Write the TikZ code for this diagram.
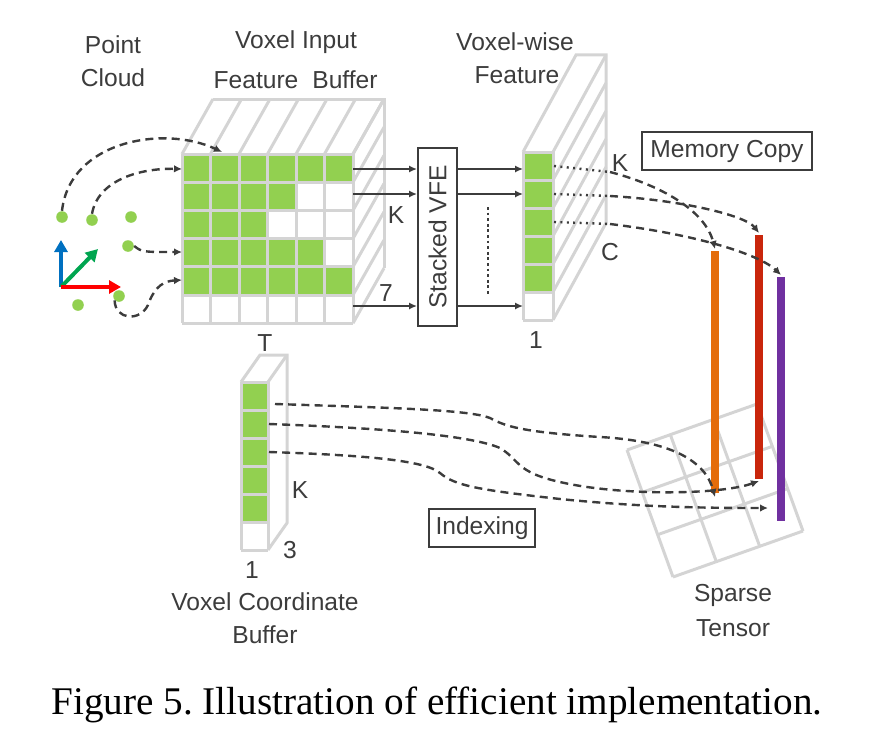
\documentclass[tikz,border=0pt]{standalone}
\usepackage{fontspec}
\setmainfont{Liberation Sans}
\newfontfamily\capfont{Liberation Serif}
\usetikzlibrary{arrows.meta}
\definecolor{gridgray}{HTML}{D4D4D4}
\definecolor{ink}{HTML}{3C3C3C}
\definecolor{vgreen}{HTML}{92D050}
\definecolor{axblue}{HTML}{0070C0}
\definecolor{axgreen}{HTML}{00A550}
\definecolor{axred}{HTML}{FF0000}
\definecolor{barorange}{HTML}{E46C0A}
\definecolor{barred}{HTML}{C9260C}
\definecolor{barpurple}{HTML}{7030A0}
\begin{document}
\begin{tikzpicture}[x=0.5pt,y=-0.5pt,
  gridline/.style={draw=gridgray, line width=1.5pt},
  cellfill/.style={fill=vgreen},
  lbl/.style={text=ink, font=\fontsize{12.3}{14}\selectfont, inner sep=0pt},
  boxed/.style={draw=ink, line width=1pt, text=ink, font=\fontsize{12.3}{14}\selectfont, inner sep=0pt},
  conn/.style={draw=ink, line width=1pt, -{Latex[length=4pt,width=3.6pt]}},
  dconn/.style={draw=ink, line width=1.2pt, dash pattern=on 4pt off 2.6pt, -{Latex[length=4pt,width=3.8pt]}},
  dotseg/.style={draw=ink, line width=1.2pt, dash pattern=on 1pt off 2.2pt},
  axis/.style={line width=2pt, -{Triangle[length=6pt,width=6.5pt]}},
  dot/.style={circle, fill=vgreen, minimum size=5.8pt, inner sep=0pt},
  bar/.style={line width=4pt}]
\useasboundingbox (0,0) rectangle (876,749);

% ---------- voxel input feature buffer (6 x 6 front face) ----------
\foreach \r/\n in {0/6,1/4,2/3,3/5,4/6}
  \foreach \c in {1,...,\n}
    \fill[cellfill] ({182+(\c-1)*28.5},{154+\r*28.2}) rectangle ++(28.5,28.2);
\foreach \i in {0,...,6} {
  \draw[gridline] ({182+\i*28.5},154) -- ({182+\i*28.5},323.2);
  \draw[gridline] (182,{154+\i*28.2}) -- (353,{154+\i*28.2});
  \draw[gridline] ({182+\i*28.5},154) -- ++(31,-55);
  \draw[gridline] (353,{154+\i*28.2}) -- ++(31,-55);
}
\draw[gridline] (213,99) -- (384,99) -- (384,268.2);

% ---------- stacked VFE ----------
\node[draw=ink, line width=1pt, minimum width=19.5pt, minimum height=89pt,
      inner sep=0pt, text=ink, font=\fontsize{12.3}{14}\selectfont]
      (vfe) at (437.5,237) {\rotatebox{90}{Stacked VFE}};

% ---------- voxel-wise feature column ----------
\foreach \r in {0,...,4}
  \fill[cellfill] (523,{152+\r*28}) rectangle ++(30,28);
\foreach \i in {0,...,6} {
  \draw[gridline] (523,{152+\i*28}) -- (553,{152+\i*28});
  \draw[gridline] (553,{152+\i*28}) -- ++(53,-97);
}
\draw[gridline] (523,152) -- (523,320);
\draw[gridline] (553,152) -- (553,320);
\draw[gridline] (523,152) -- ++(53,-97) -- (606,55) -- (606,223);

% ---------- voxel coordinate buffer ----------
\foreach \r in {0,...,4}
  \fill[cellfill] (241,{382+\r*28}) rectangle ++(27,28);
\foreach \i in {0,...,6}
  \draw[gridline] (241,{382+\i*28}) -- (268,{382+\i*28});
\draw[gridline] (241,382) -- (241,550);
\draw[gridline] (268,382) -- (268,550);
\draw[gridline] (241,382) -- ++(19,-27) -- (287,355) -- (287,523) -- (268,550);
\draw[gridline] (268,382) -- (287,355);

% ---------- sparse tensor grid ----------
\foreach \i in {0,...,3} {
  \draw[gridline] ({627+\i*43.33},{450-\i*15.33}) -- ++(46,127);
  \draw[gridline] ({627+\i*15.33},{450+\i*42.33}) -- ++(130,-46);
}

% ---------- memory columns ----------
\coordinate (ot) at (715,251); \coordinate (ob) at (715,493);
\coordinate (rt) at (759,235); \coordinate (rb) at (759,479);
\coordinate (pt) at (781,277); \coordinate (pb) at (781,521);
\draw[bar, barorange] (ot) -- (ob);
\draw[bar, barred] (rt) -- (rb);
\draw[bar, barpurple] (pt) -- (pb);

% ---------- point cloud ----------
\node[dot] (p1) at (62,217) {};
\node[dot] (p2) at (92,220) {};
\node[dot] (p3) at (131,217) {};
\node[dot] (p4) at (128,246) {};
\node[dot] (p5) at (119,296) {};
\node[dot] (p6) at (78,305) {};
\coordinate (o) at (61,287);
\coordinate (ax) at (121,287);
\coordinate (ay) at (61,240);
\coordinate (az) at (98,249);
\draw[axis, axblue] (o) -- (ay);
\draw[axis, axgreen] (o) -- (az);
\draw[axis, axred] (o) -- (ax);

% cell targets in the input buffer
\coordinate (c12) at (222,152);
\coordinate (c11) at (182,169);
\coordinate (c41) at (182,252);
\coordinate (c51) at (182,280);
\draw[dconn] (p1.north) .. controls (70,140) and (165,125) .. (c12);
\draw[dconn] (p2.north) .. controls (98,180) and (140,168) .. (c11);
\draw[dconn] (p4.east) .. controls (142,252) .. (c41);
\draw[dconn] (p5.south west) .. controls (115,320) and (140,322) .. (148,305)
  .. controls (155,285) and (165,281) .. (c51);

% ---------- buffer -> VFE -> voxel-wise feature ----------
\coordinate (b1) at (353,169);
\coordinate (b2) at (353,194);
\coordinate (b7) at (353,306);
\coordinate (w1) at (523,169);
\coordinate (w2) at (523,194);
\coordinate (w7) at (523,306);
\draw[conn] (b1) -- (b1 -| vfe.west);
\draw[conn] (b2) -- (b2 -| vfe.west);
\draw[conn] (b7) -- (b7 -| vfe.west);
\draw[conn] (w1 -| vfe.east) -- (w1);
\draw[conn] (w2 -| vfe.east) -- (w2);
\draw[conn] (w7 -| vfe.east) -- (w7);
\draw[ink, line width=1.4pt, dash pattern=on 1.4pt off 1.4pt] (488,207) -- (488,296);

% ---------- memory copy ----------
\coordinate (f1) at (554,166); \coordinate (g1) at (610,172);
\coordinate (f2) at (554,194); \coordinate (g2) at (610,196);
\coordinate (f3) at (554,222); \coordinate (g3) at (610,224);
\draw[dotseg] (f1) -- (g1);
\draw[dotseg] (f2) -- (g2);
\draw[dotseg] (f3) -- (g3);
\draw[dconn] (g1) .. controls (660,185) and (705,210) .. ([yshift=1pt]ot);
\draw[dconn] (g2) .. controls (680,200) and (745,215) .. ([yshift=1pt]rt);
\draw[dconn] (g3) .. controls (700,235) and (760,255) .. ([yshift=1pt]pt);

% ---------- indexing ----------
\coordinate (k1) at (275,404);
\coordinate (k2) at (269,424);
\coordinate (k3) at (269,452);
\coordinate (pe) at (768,508);
\draw[dconn] (k1) .. controls (400,408) and (470,410) .. (490,418)
  .. controls (505,426) and (520,432) .. (600,437)
  .. controls (670,441) and (705,460) .. ([yshift=-2pt]ob);
\draw[dconn] (k2) .. controls (380,428) and (470,435) .. (500,448)
  .. controls (520,460) and (515,472) .. (560,482)
  .. controls (620,496) and (720,495) .. ([yshift=-1pt]rb);
\draw[dconn] (k3) .. controls (360,455) and (425,460) .. (440,473)
  .. controls (455,486) and (480,490) .. (560,499)
  .. controls (640,507) and (700,508) .. (pe);

% ---------- boxed labels ----------
\node[boxed, minimum width=85pt, minimum height=19pt] (mc) at (727,151) {Memory Copy};
\node[boxed, minimum width=53pt, minimum height=19pt] (ix) at (482,528) {Indexing};

% ---------- labels ----------
\node[lbl] (tPoint) at (113,45) {Point};
\node[lbl] (tCloud) at (113,78) {Cloud};
\node[lbl] (tVIn) at (296,42) {Voxel Input};
\node[lbl] (tFeat) at (256,80) {Feature};
\node[lbl] (tBuf) at (345,80) {Buffer};
\node[lbl] (tVw) at (515,42) {Voxel-wise};
\node[lbl] (tVwF) at (517,75) {Feature};
\node[lbl] (tK1) at (396,215) {K};
\node[lbl] (t7) at (386,293) {7};
\node[lbl] (tT) at (265,343) {T};
\node[lbl] (t1a) at (536,340) {1};
\node[lbl] (tC) at (610,252) {C};
\node[lbl] (tK2) at (620,163) {K};
\node[lbl] (tK3) at (300,490) {K};
\node[lbl] (t3) at (290,550) {3};
\node[lbl] (t1b) at (252,570) {1};
\node[lbl] (tVC) at (265,602) {Voxel Coordinate};
\node[lbl] (tVCB) at (265,635) {Buffer};
\node[lbl] (tSp) at (733,595) {Sparse};
\node[lbl] (tTe) at (733,628) {Tensor};

% ---------- caption ----------
\node[inner sep=0pt, font=\capfont\fontsize{19.6}{22}\selectfont] (cap) at (437,705)
  {Figure 5.\ Illustration of efficient implementation.};
\end{tikzpicture}
\end{document}
